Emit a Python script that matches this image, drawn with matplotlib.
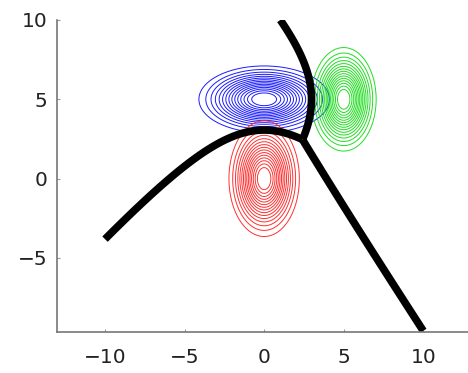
import numpy as np
import matplotlib

matplotlib.use("Agg")
import matplotlib.pyplot as plt

# three classes: blue, green, red
mean_x = [0.0, 5.0, 0.0]
mean_y = [5.0, 5.0, 0.0]
# spread of the drawn density contours
contour_sx = [1.91, 0.95, 1.03]
contour_sy = [0.98, 1.52, 1.70]
# spread of the class models behind the decision boundaries
model_sx = [1.788, 1.146, 0.957]
model_sy = [0.959, 1.259, 1.441]
colors = ["#1a1aff", "#22dd22", "#ff3030"]
x_ticks = [-10, -5, 0, 5, 10]
x_labels = ["\u221210", "\u22125", "0", "5", "10"]
y_ticks = [-5, 0, 5, 10]
y_labels = ["\u22125", "0", "5", "10"]

plt.rcParams["font.family"] = ["DejaVu Sans"]

fig = plt.figure(figsize=(4.68, 3.73), dpi=100)
ax = fig.add_axes([0.1224, 0.1107, 0.884, 0.8357])

# density contours
for mx, my, sx, sy, c in zip(mean_x, mean_y, contour_sx, contour_sy, colors):
    gx = np.linspace(mx - 3 * sx, mx + 3 * sx, 300)
    gy = np.linspace(my - 3 * sy, my + 3 * sy, 300)
    X, Y = np.meshgrid(gx, gy)
    Z = np.exp(-0.5 * (((X - mx) / sx) ** 2 + ((Y - my) / sy) ** 2))
    ax.contour(X, Y, Z, levels=np.linspace(0.1, 0.92, 15), colors=c,
               linewidths=0.7)

# quadratic discriminant boundaries, evaluated on [-10, 10]^2
gx = np.linspace(-10, 10, 801)
X, Y = np.meshgrid(gx, gx)
G = [
    -0.5 * (((X - mx) / sx) ** 2 + ((Y - my) / sy) ** 2) - np.log(sx * sy)
    for mx, my, sx, sy in zip(mean_x, mean_y, model_sx, model_sy)
]
for i, j in [(0, 1), (0, 2), (1, 2)]:
    k = 3 - i - j
    D = np.ma.masked_where(G[k] > np.maximum(G[i], G[j]), G[i] - G[j])
    ax.contour(X, Y, D, levels=[0], colors="black", linewidths=5.5)

ax.set_xlim(-13, 13)
ax.set_ylim(-9.65, 10)
ax.set_xticks(x_ticks)
ax.set_xticklabels(x_labels)
ax.set_yticks(y_ticks)
ax.set_yticklabels(y_labels)
for side in ["top", "right"]:
    ax.spines[side].set_visible(False)
for side in ["left", "bottom"]:
    ax.spines[side].set_color("#777777")
    ax.spines[side].set_linewidth(1.2)
ax.tick_params(direction="in", length=2, color="#999999", labelsize=14.5,
               labelcolor="#222222")
ax.tick_params(axis="x", pad=12)
ax.tick_params(axis="y", pad=7)

fig.savefig("out.png", dpi=100)
